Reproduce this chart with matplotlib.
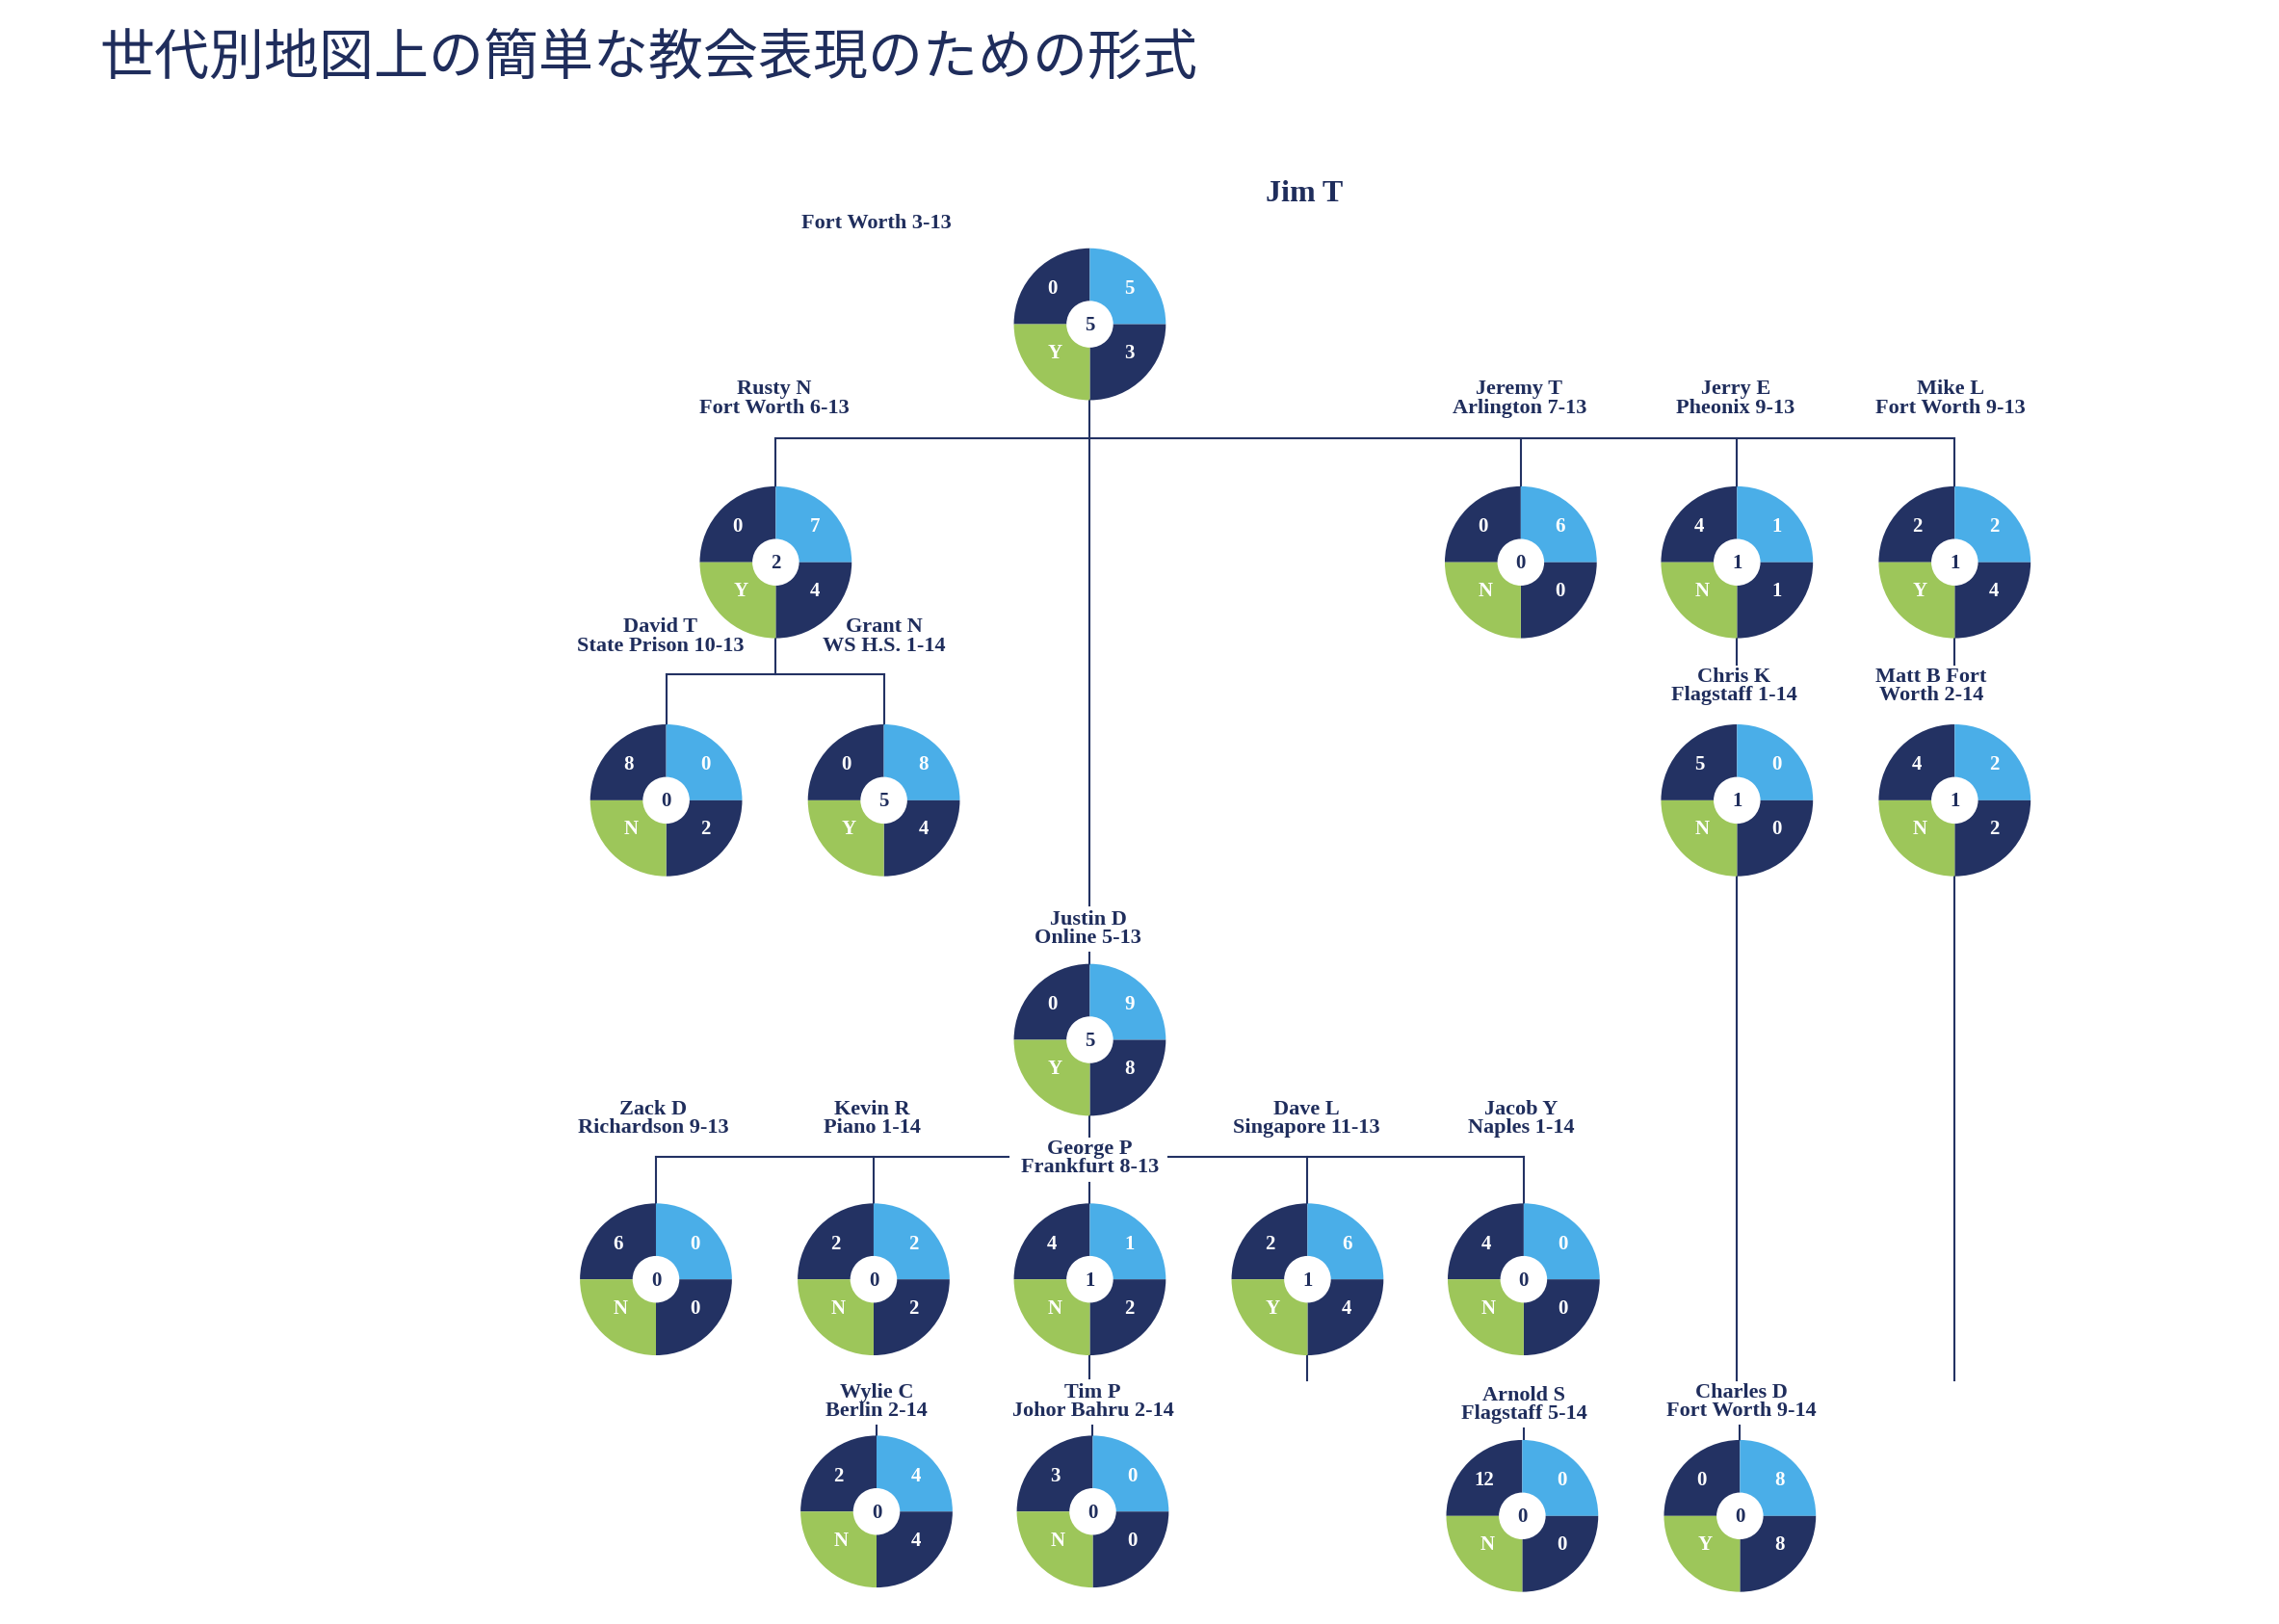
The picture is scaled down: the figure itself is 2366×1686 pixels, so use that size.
import matplotlib.pyplot as plt
from matplotlib.patches import Wedge

navy = "#233263"
blue = "#4aaee8"
green = "#9dc65a"
txt = "#1f2d5c"

# nodes: name, place, centre (x, y in reference display px), top-left, top-right, bottom-right, letter, centre value
names = ["Jim T", "Rusty N", "Jeremy T", "Jerry E", "Mike L", "David T", "Grant N",
         "Chris K", "Matt B", "Justin D", "Zack D", "Kevin R", "George P", "Dave L",
         "Jacob Y", "Wylie C", "Tim P", "Arnold S", "Charles D"]
labels = ["Fort Worth 3-13", "Rusty N\nFort Worth 6-13", "Jeremy T\nArlington 7-13",
          "Jerry E\nPheonix 9-13", "Mike L\nFort Worth 9-13", "David T\nState Prison 10-13",
          "Grant N\nWS H.S. 1-14", "Chris K\nFlagstaff 1-14", "Matt B Fort\nWorth 2-14",
          "Justin D\nOnline 5-13", "Zack D\nRichardson 9-13", "Kevin R\nPiano 1-14",
          "George P\nFrankfurt 8-13", "Dave L\nSingapore 11-13", "Jacob Y\nNaples 1-14",
          "Wylie C\nBerlin 2-14", "Tim P\nJohor Bahru 2-14", "Arnold S\nFlagstaff 5-14",
          "Charles D\nFort Worth 9-14"]
cx = [746, 531, 1041, 1189, 1338, 456, 605, 1189, 1338, 746, 449, 598, 746, 895, 1043, 600, 748, 1042, 1191]
cy = [222, 385, 385, 385, 385, 548, 548, 548, 548, 712, 876, 876, 876, 876, 876, 1035, 1035, 1038, 1038]
lab_x = [600, 530, 1040, 1188, 1335, 452, 605, 1187, 1322, 745, 447, 597, 746, 894, 1041, 600, 748, 1043, 1192]
lab_y = [153, 273, 273, 273, 273, 436, 436, 470, 470, 636, 766, 766, 793, 766, 766, 960, 960, 962, 960]
q_tl = [0, 0, 0, 4, 2, 8, 0, 5, 4, 0, 6, 2, 4, 2, 4, 2, 3, 12, 0]
q_tr = [5, 7, 6, 1, 2, 0, 8, 0, 2, 9, 0, 2, 1, 6, 0, 4, 0, 0, 8]
q_br = [3, 4, 0, 1, 4, 2, 4, 0, 2, 8, 0, 2, 2, 4, 0, 4, 0, 0, 8]
q_bl = ["Y", "Y", "N", "N", "Y", "N", "Y", "N", "N", "Y", "N", "N", "N", "Y", "N", "N", "N", "N", "Y"]
q_c = [5, 2, 0, 1, 1, 0, 5, 1, 1, 5, 0, 0, 1, 1, 0, 0, 0, 0, 0]

# connector segments (x0, y0, x1, y1)
segments = [
    (531, 300, 1338, 300), (531, 300, 531, 333), (1041, 300, 1041, 333),
    (1189, 300, 1189, 333), (1338, 300, 1338, 333), (746, 274, 746, 620),
    (746, 652, 746, 660),
    (531, 437, 531, 462), (456, 462, 605, 462), (456, 462, 456, 496), (605, 462, 605, 496),
    (1189, 437, 1189, 455), (1338, 437, 1338, 455),
    (1189, 600, 1189, 945), (1338, 600, 1338, 945),
    (746, 764, 746, 780), (746, 810, 746, 824),
    (449, 792, 690, 792), (800, 792, 1043, 792),
    (449, 792, 449, 824), (598, 792, 598, 824), (895, 792, 895, 824), (1043, 792, 1043, 824),
    (746, 928, 746, 944), (895, 928, 895, 945),
    (600, 976, 600, 983), (748, 976, 748, 983), (1043, 978, 1043, 986), (1191, 976, 1191, 986),
]

fig = plt.figure(figsize=(23.66, 16.86), dpi=100)
ax = fig.add_axes([0, 0, 1, 1])
ax.set_xlim(0, 1560)
ax.set_ylim(1112, 0)
ax.axis("off")

serif = ["Liberation Serif", "DejaVu Serif"]

for x0, y0, x1, y1 in segments:
    ax.plot([x0, x1], [y0, y1], color=navy, lw=1.5, zorder=1)

R, W = 52, 36
for i in range(len(names)):
    x, y = cx[i], cy[i]
    for (a0, a1), col in zip([(180, 270), (270, 360), (0, 90), (90, 180)],
                             [navy, blue, navy, green]):
        ax.add_patch(Wedge((x, y), R, a0, a1, width=W, facecolor=col, edgecolor="none", zorder=2))
    kw = dict(color="white", family=serif, weight="bold", fontsize=15, ha="center", va="center", zorder=3)
    ax.text(x - 26, y - 24, str(q_tl[i]), **kw)
    ax.text(x + 27, y - 24, str(q_tr[i]), **kw)
    ax.text(x + 27, y + 20, str(q_br[i]), **kw)
    ax.text(x - 24, y + 20, q_bl[i], **kw)
    ax.text(x, y + 1, str(q_c[i]), color=txt, family=serif, weight="bold", fontsize=15,
            ha="center", va="center", zorder=3)
    bg = dict(facecolor="white", edgecolor="none", pad=1) if names[i] == "George P" else None
    ax.text(lab_x[i], lab_y[i], labels[i], color=txt, family=serif, weight="bold", fontsize=16,
            ha="center", va="center", linespacing=0.95, zorder=4, bbox=bg)

ax.text(893, 133, "Jim T", color=txt, family=serif, weight="bold", fontsize=23, ha="center", va="center")
ax.text(68, 40, "世代別地図上の簡単な教会表現のための形式", color="#1f2d5c",
        family=["Noto Sans CJK JP", "DejaVu Sans"], fontsize=41, ha="left", va="center")

fig.savefig("out.png", dpi=100, facecolor="white")
